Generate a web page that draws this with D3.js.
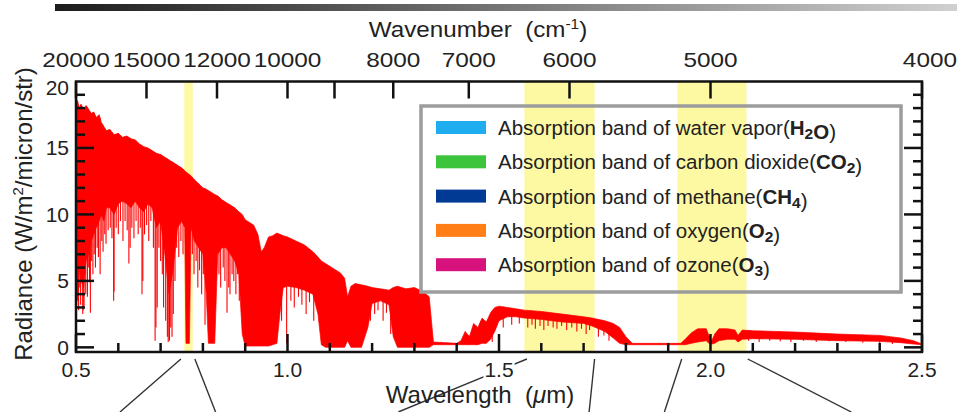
<!DOCTYPE html>
<html lang="en">
<head>
<meta charset="utf-8">
<script src="https://d3js.org/d3.v7.min.js"></script>
<style>
  body { margin: 0; background: #fff; }
  text { font-family: "Liberation Sans", Arial, sans-serif; fill: #222; }
</style>
</head>
<body>
<svg width="957" height="412"></svg>
<script>
// axes
const wlTicks = [0.5, 1.0, 1.5, 2.0, 2.5];
const wlLabels = ["0.5", "1.0", "1.5", "2.0", "2.5"];
const wnTicks = [20000, 15000, 12000, 10000, 9000, 8000, 7000, 6000, 5000, 4000];
const wnLabels = [20000, 15000, 12000, 10000, 8000, 7000, 6000, 5000, 4000];
const radTicks = [0, 5, 10, 15, 20];

// highlighted bands (micron)
const bandStart = [0.756, 1.56, 1.922];
const bandEnd = [0.776, 1.726, 2.085];

// callout lines below the plot: from wavelength -> to wavelength (at image bottom)
const calloutFrom = [0.748, 0.781, 1.566, 1.726, 1.932, 2.088];
const calloutTo = [0.604, 0.830, 1.262, 1.713, 1.891, 2.333];

// legend
const gasNames = ["water vapor", "carbon dioxide", "methane", "oxygen", "ozone"];
const gasFormula = ["H2O", "CO2", "CH4", "O2", "O3"];
const gasColors = ["#1eaef0", "#3cc43c", "#003a94", "#ff7f16", "#d8127c"];

// spectrum: wavelength, upper envelope, lower edge of the dense red
const specWl = [0.500, 0.503, 0.508, 0.512, 0.518, 0.524, 0.530, 0.536, 0.542, 0.548,
  0.555, 0.560, 0.566, 0.572, 0.580, 0.590, 0.600, 0.610, 0.620, 0.630,
  0.640, 0.650, 0.660, 0.670, 0.680, 0.690, 0.700, 0.710, 0.720, 0.730,
  0.740, 0.750, 0.757, 0.760, 0.768, 0.772, 0.780, 0.790, 0.800, 0.808,
  0.813, 0.828, 0.835, 0.845, 0.855, 0.865, 0.875, 0.885, 0.893, 0.900,
  0.910, 0.920, 0.930, 0.938, 0.945, 0.955, 0.965, 0.975, 0.982, 0.990,
  1.000, 1.020, 1.040, 1.060, 1.072, 1.080, 1.090, 1.110, 1.125, 1.135,
  1.142, 1.150, 1.160, 1.175, 1.190, 1.200, 1.220, 1.240, 1.250, 1.260,
  1.280, 1.300, 1.320, 1.335, 1.345, 1.400, 1.410, 1.420, 1.430, 1.440,
  1.450, 1.460, 1.470, 1.480, 1.490, 1.500, 1.520, 1.540, 1.560, 1.600,
  1.650, 1.700, 1.720, 1.750, 1.770, 1.785, 1.800, 1.815, 1.930, 1.940,
  1.955, 1.970, 1.990, 1.996, 2.003, 2.010, 2.020, 2.040, 2.058, 2.065,
  2.075, 2.100, 2.200, 2.300, 2.400, 2.450, 2.480, 2.500];
const specTop = [17.5, 18.6, 18.0, 18.3, 17.8, 18.2, 17.9, 17.6, 17.7, 17.3,
  17.5, 16.9, 16.6, 16.3, 16.4, 16.0, 16.1, 15.8, 15.9, 15.7,
  15.6, 15.3, 15.1, 15.0, 14.8, 14.6, 14.5, 14.3, 14.1, 13.9,
  13.7, 13.5, 13.3, 13.2, 13.0, 12.9, 12.6, 12.3, 12.0, 11.9,
  11.8, 11.5, 11.4, 11.1, 10.9, 10.7, 10.5, 10.2, 10.0, 9.6,
  9.4, 9.2, 8.5, 7.2, 7.5, 8.3, 8.4, 8.6, 8.5, 8.4,
  8.3, 8.0, 7.7, 7.2, 6.8, 6.5, 6.3, 5.9, 5.6, 5.2,
  3.8, 4.6, 4.8, 4.7, 4.6, 4.5, 4.4, 4.3, 4.5, 4.6,
  4.4, 4.5, 4.2, 3.8, 0.4, 0.3, 0.5, 1.2, 0.8, 1.8,
  1.5, 2.2, 1.9, 2.6, 3.0, 3.1, 3.0, 2.9, 2.8, 2.7,
  2.5, 2.3, 2.2, 2.0, 1.8, 1.5, 0.8, 0.3, 0.3, 0.6,
  1.1, 1.4, 1.4, 0.9, 0.5, 1.0, 1.4, 1.4, 1.3, 0.9,
  1.3, 1.25, 1.15, 1.0, 0.9, 0.7, 0.5, 0.25];
const specBot = [2.0, 4.0, 6.0, 5.0, 4.5, 6.5, 7.0, 8.0, 8.5, 9.0,
  9.5, 10.0, 9.5, 10.5, 10.5, 10.0, 10.8, 11.0, 10.8, 10.5,
  11.0, 10.5, 10.2, 10.8, 10.5, 9.0, 9.5, 7.0, 4.0, 6.0,
  9.0, 9.5, 9.0, 0.3, 0.3, 9.0, 8.0, 7.5, 7.0, 4.0,
  0.3, 0.3, 7.0, 7.5, 7.5, 7.0, 6.5, 5.5, 1.0, 0.1,
  0.1, 0.1, 0.1, 0.1, 0.1, 0.1, 0.2, 0.3, 2.5, 4.5,
  4.6, 4.5, 4.3, 4.0, 2.5, 0.2, 0.0, 0.0, 0.0, 0.0,
  0.5, 0.0, 0.0, 0.0, 1.5, 3.3, 3.5, 3.2, 0.8, 0.0,
  0.0, 0.0, 0.0, 0.0, 0.2, 0.2, 0.2, 0.2, 0.2, 0.2,
  0.2, 0.3, 0.3, 0.6, 1.2, 2.0, 2.3, 2.3, 2.2, 2.1,
  1.9, 1.8, 1.6, 1.2, 0.7, 0.3, 0.2, 0.2, 0.2, 0.2,
  0.3, 0.4, 0.5, 0.3, 0.25, 0.3, 0.5, 0.6, 0.6, 0.4,
  0.6, 0.65, 0.6, 0.5, 0.45, 0.35, 0.25, 0.2];

// narrow absorption lines: wavelength and the radiance they reach
const lineWl = [0.501, 0.504, 0.506, 0.509, 0.511, 0.514, 0.516, 0.517, 0.519, 0.521,
  0.523, 0.527, 0.529, 0.532, 0.534, 0.537, 0.540, 0.543, 0.546, 0.550,
  0.553, 0.557, 0.561, 0.564, 0.568, 0.571, 0.576, 0.581, 0.585, 0.589,
  0.590, 0.595, 0.600, 0.605, 0.611, 0.616, 0.621, 0.625, 0.628, 0.632,
  0.637, 0.642, 0.647, 0.652, 0.656, 0.658, 0.662, 0.667, 0.672, 0.677,
  0.683, 0.687, 0.689, 0.692, 0.696, 0.700, 0.704, 0.707, 0.712, 0.716,
  0.718, 0.721, 0.724, 0.727, 0.730, 0.734, 0.738, 0.743, 0.748, 0.753,
  0.775, 0.779, 0.784, 0.788, 0.792, 0.797, 0.801, 0.805, 0.838, 0.842,
  0.848, 0.852, 0.857, 0.861, 0.864, 0.869, 0.873, 0.878, 0.882, 0.886,
  0.986, 0.998, 1.008, 1.016, 1.026, 1.034, 1.044, 1.052, 1.062, 1.196,
  1.206, 1.214, 1.226, 1.234, 1.244, 1.427, 1.446, 1.457, 1.466, 1.484,
  1.510, 1.530, 1.548, 1.568, 1.578, 1.586, 1.597, 1.606, 1.616, 1.628,
  1.637, 1.648, 1.660, 1.672, 1.684, 1.695, 1.706, 1.714, 1.735, 1.748,
  1.760, 1.966, 1.983, 2.030, 2.048, 2.090, 2.115, 2.140, 2.165, 2.190,
  2.220, 2.250, 2.280, 2.320, 2.360, 2.400, 2.430];
const lineMin = [1.5, 3.5, 2.8, 4.5, 3.2, 5.0, 2.5, 2.8, 3.0, 5.5,
  4.0, 3.8, 6.0, 5.0, 2.6, 6.5, 5.5, 7.0, 6.0, 7.5,
  6.8, 5.5, 8.0, 7.2, 8.5, 7.8, 8.8, 9.0, 8.2, 3.5,
  4.2, 9.0, 8.5, 9.5, 8.0, 9.5, 8.8, 6.3, 7.5, 9.0,
  8.2, 9.5, 8.5, 9.0, 4.0, 5.0, 8.5, 9.2, 8.0, 9.5,
  7.5, 0.5, 1.5, 3.0, 7.5, 6.5, 5.5, 3.0, 2.0, 0.8,
  0.4, 0.5, 1.5, 0.8, 2.5, 5.0, 7.5, 6.8, 8.0, 7.0,
  7.0, 5.5, 6.5, 4.5, 5.8, 4.0, 5.5, 1.7, 5.5, 4.5,
  6.0, 5.0, 2.6, 4.5, 4.0, 5.5, 5.0, 4.0, 5.5, 3.5,
  2.0, 0.3, 3.5, 3.0, 3.8, 3.2, 2.5, 3.4, 2.0, 2.0,
  2.5, 2.8, 2.0, 2.6, 1.0, 0.2, 0.2, 0.5, 0.3, 0.4,
  1.5, 1.7, 1.8, 1.5, 1.7, 1.4, 1.6, 1.3, 1.6, 1.5,
  1.4, 1.6, 1.3, 1.5, 1.2, 1.4, 1.0, 1.3, 0.8, 0.9,
  0.5, 0.5, 0.6, 0.6, 0.7, 0.5, 0.4, 0.5, 0.45, 0.4,
  0.5, 0.4, 0.45, 0.4, 0.35, 0.3, 0.25];

const svg = d3.select("svg");
const mL = 76, mR = 922, mT = 81.5, mB = 352;
const x = d3.scaleLinear().domain([0.5, 2.5]).range([mL, mR]);
const y = d3.scaleLinear().domain([-0.35, 20]).range([mB, mT]);

// grey gradient bar at the very top
const grad = svg.append("defs").append("linearGradient").attr("id", "bar");
grad.append("stop").attr("offset", "0%").attr("stop-color", "#1c1c1c");
grad.append("stop").attr("offset", "100%").attr("stop-color", "#d0d0d0");
svg.append("rect").attr("x", 55).attr("y", 4).attr("width", 902).attr("height", 7)
  .attr("fill", "url(#bar)");

// yellow bands
svg.append("g").selectAll("rect")
  .data(bandStart)
  .join("rect")
  .attr("x", d => x(d))
  .attr("y", mT)
  .attr("width", (d, i) => x(bandEnd[i]) - x(d))
  .attr("height", mB - mT)
  .attr("fill", "#fdf9a2");

// spectrum
const spec = specWl.map((w, i) => ({w: w, t: specTop[i], b: specBot[i]}));
const area = d3.area()
  .x(d => x(d.w))
  .y0(d => y(d.b))
  .y1(d => y(d.t));
svg.append("path")
  .datum(spec)
  .attr("d", area)
  .attr("fill", "#ff0000")
  .attr("stroke", "#ff0000")
  .attr("stroke-width", 0.7);

const topAt = d3.scaleLinear().domain(specWl).range(specTop);
svg.append("g").selectAll("line")
  .data(lineWl)
  .join("line")
  .attr("x1", d => x(d))
  .attr("x2", d => x(d))
  .attr("y1", d => y(topAt(d)))
  .attr("y2", (d, i) => y(lineMin[i]))
  .attr("stroke", "#ff0000")
  .attr("stroke-width", 1.1);

// frame
svg.append("rect")
  .attr("x", mL).attr("y", mT)
  .attr("width", mR - mL).attr("height", mB - mT)
  .attr("fill", "none").attr("stroke", "#111").attr("stroke-width", 2.5);

const ticks = svg.append("g").attr("stroke", "#111").attr("stroke-width", 2.5);
// bottom minor/major ticks every 0.1 micron
x.ticks(20).forEach(v => {
  const major = wlTicks.some(t => Math.abs(t - v) < 1e-6);
  const len = major ? 18 : 9;
  ticks.append("line").attr("x1", x(v)).attr("x2", x(v))
    .attr("y1", mB).attr("y2", mB - len);
});
// left and right ticks every 1 unit
y.ticks(20).filter(v => v >= 0 && v < 20).forEach(v => {
  const major = radTicks.includes(v);
  const len = major ? 18 : 9;
  ticks.append("line").attr("x1", mL).attr("x2", mL + len)
    .attr("y1", y(v)).attr("y2", y(v));
  ticks.append("line").attr("x1", mR).attr("x2", mR - len)
    .attr("y1", y(v)).attr("y2", y(v));
});
// top wavenumber ticks
wnTicks.forEach(wn => {
  const px = x(1e4 / wn);
  ticks.append("line").attr("x1", px).attr("x2", px)
    .attr("y1", mT).attr("y2", mT + 17);
});

// callouts
svg.append("g").selectAll("line")
  .data(calloutFrom)
  .join("line")
  .attr("x1", d => x(d))
  .attr("y1", 359)
  .attr("x2", (d, i) => x(calloutTo[i]))
  .attr("y2", 412)
  .attr("stroke", "#333")
  .attr("stroke-width", 1.4);

// bottom labels (white box behind, hides the callout passing under "1.5")
const bl = svg.append("g");
wlTicks.forEach((v, i) => {
  const t = bl.append("text").attr("x", x(v)).attr("y", 377)
    .attr("text-anchor", "middle").attr("font-size", 21).text(wlLabels[i]);
  const bb = t.node().getBBox();
  bl.insert("rect", "text").attr("x", bb.x - 1).attr("y", bb.y + 3)
    .attr("width", bb.width + 2).attr("height", bb.height - 5).attr("fill", "#fff");
});

// left labels
radTicks.forEach(v => {
  svg.append("text").attr("x", 69).attr("y", Math.max(y(v), 87) + 7.5)
    .attr("text-anchor", "end").attr("font-size", 21).text(v);
});

// top labels (drawn a bit wide, as in the original); last one pushed to the edge
wnLabels.forEach(wn => {
  const px = x(1e4 / wn);
  const t = svg.append("text").attr("text-anchor", "middle").attr("font-size", 21)
    .attr("transform", `translate(${px},67) scale(1.16,1)`).text(wn);
  const half = t.node().getBBox().width * 1.16 / 2;
  if (px + half > 940) t.attr("transform", `translate(${957 - half},67) scale(1.16,1)`);
});

// titles
const tTop = svg.append("text").attr("text-anchor", "middle").attr("font-size", 22)
  .attr("transform", "translate(478,37) scale(1.1,1)");
tTop.append("tspan").text("Wavenumber\u00a0\u00a0(cm");
tTop.append("tspan").attr("font-size", 14).attr("dy", -8).text("-1");
tTop.append("tspan").attr("dy", 8).text(")");

const tBot = svg.append("text").attr("x", 480).attr("y", 403)
  .attr("text-anchor", "middle").attr("font-size", 24);
tBot.append("tspan").text("Wavelength\u00a0\u00a0(");
tBot.append("tspan").attr("font-style", "italic").text("\u03bc");
tBot.append("tspan").text("m)");

const tLeft = svg.append("text").attr("text-anchor", "middle").attr("font-size", 24)
  .attr("transform", "translate(32,214) rotate(-90)");
tLeft.append("tspan").text("Radiance (W/m");
tLeft.append("tspan").attr("font-size", 15).attr("dy", -9).text("2");
tLeft.append("tspan").attr("dy", 9).text("/micron/str)");

// legend
const lg = svg.append("g");
lg.append("rect").attr("x", 421).attr("y", 106).attr("width", 480).attr("height", 186)
  .attr("fill", "none").attr("stroke", "#9c9c9c").attr("stroke-width", 3.5);
gasNames.forEach((name, i) => {
  const cy = 127.5 + i * 34.3;
  lg.append("rect").attr("x", 436).attr("y", cy - 6.5).attr("width", 50).attr("height", 13)
    .attr("fill", gasColors[i]);
  const t = lg.append("text").attr("x", 498).attr("y", cy + 7.5).attr("font-size", 20.5);
  t.append("tspan").text("Absorption band of " + name + "(");
  gasFormula[i].split("").forEach(ch => {
    const sub = /[0-9]/.test(ch);
    t.append("tspan").attr("font-weight", "bold")
      .attr("font-size", sub ? 15.5 : 20.5)
      .attr("dy", sub ? 4 : 0)
      .text(ch);
    if (sub) t.append("tspan").attr("dy", -4).text("");
  });
  t.append("tspan").text(")");
});
</script>
</body>
</html>
